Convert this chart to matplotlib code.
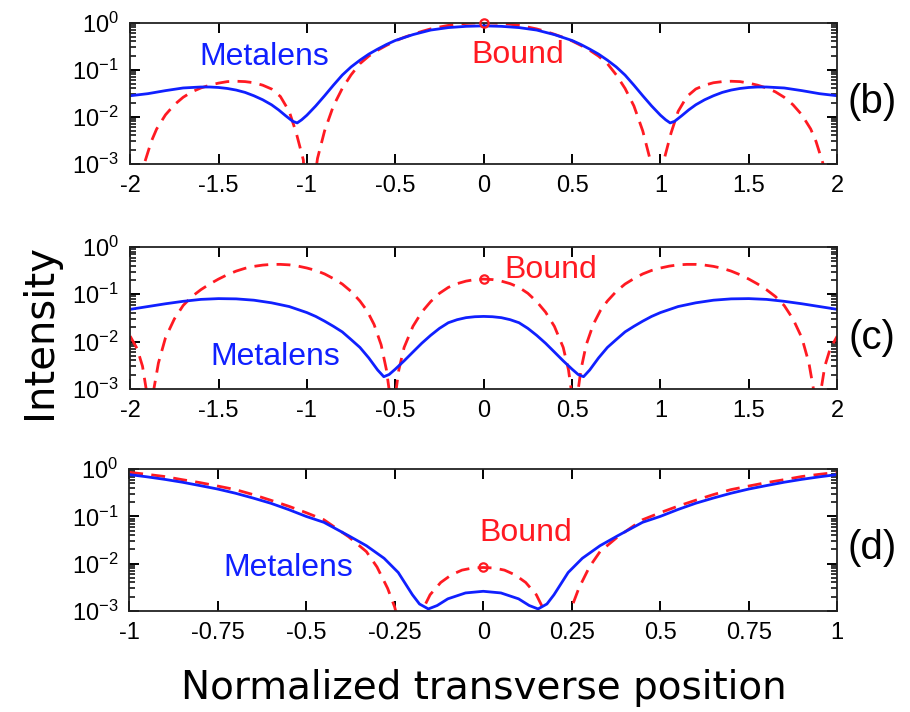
import matplotlib
matplotlib.use("Agg")
import matplotlib.pyplot as plt
from matplotlib.ticker import FixedLocator, NullFormatter

plt.rcParams['font.family'] = ['Liberation Sans', 'DejaVu Sans']
plt.rcParams['mathtext.fontset'] = 'custom'
plt.rcParams['mathtext.rm'] = 'Liberation Sans'

# ---- panel (b) ----
xb_metal = [-2.0, -1.9, -1.8, -1.7, -1.6, -1.55, -1.5, -1.45, -1.4, -1.35, -1.3, -1.25, -1.2, -1.16,
            -1.12, -1.08, -1.055, -1.03, -1.0, -0.95, -0.9, -0.85, -0.8, -0.75, -0.7, -0.65, -0.6,
            -0.55, -0.5, -0.4, -0.3, -0.2, -0.1, 0.0, 0.1, 0.2, 0.3, 0.4, 0.5, 0.55, 0.6, 0.65,
            0.7, 0.75, 0.8, 0.85, 0.9, 0.95, 1.0, 1.03, 1.055, 1.08, 1.12, 1.16, 1.2, 1.25, 1.3,
            1.35, 1.4, 1.45, 1.5, 1.55, 1.6, 1.7, 1.8, 1.9, 2.0]
yb_metal = [0.028, 0.031, 0.036, 0.041, 0.043, 0.043, 0.042, 0.040, 0.037, 0.033, 0.028, 0.023, 0.018, 0.014,
            0.0105, 0.008, 0.0074, 0.0086, 0.0108, 0.017, 0.028, 0.047, 0.077, 0.115, 0.16, 0.215, 0.275,
            0.345, 0.42, 0.56, 0.70, 0.79, 0.84, 0.86, 0.84, 0.79, 0.70, 0.56, 0.42, 0.345, 0.275, 0.215,
            0.16, 0.115, 0.077, 0.047, 0.028, 0.017, 0.0108, 0.0086, 0.0074, 0.008, 0.0105, 0.014, 0.018, 0.023, 0.028,
            0.033, 0.037, 0.040, 0.042, 0.043, 0.043, 0.041, 0.036, 0.031, 0.028]
xb_bound = [-2.0, -1.96, -1.94, -1.92, -1.88, -1.85, -1.8, -1.75, -1.7, -1.65, -1.6, -1.55, -1.5, -1.45,
            -1.4, -1.35, -1.3, -1.25, -1.2, -1.15, -1.1, -1.06, -1.02, -0.98, -0.97, -0.94, -0.9, -0.85,
            -0.8, -0.75, -0.7, -0.65, -0.6, -0.55, -0.5, -0.45, -0.4, -0.35, -0.3, -0.25, -0.2, -0.15,
            -0.1, -0.05, 0.0, 0.05, 0.1, 0.15, 0.2, 0.25, 0.3, 0.35, 0.4, 0.45, 0.5, 0.55, 0.6, 0.65,
            0.7, 0.75, 0.8, 0.85, 0.9, 0.94, 0.97, 0.98, 1.02, 1.06, 1.1, 1.15, 1.2, 1.25, 1.3, 1.35,
            1.4, 1.45, 1.5, 1.55, 1.6, 1.65, 1.7, 1.75, 1.8, 1.85, 1.88, 1.92, 1.94, 1.96, 2.0]
yb_bound = [0.0004, 1e-6, 0.0004, 0.001, 0.003, 0.0055, 0.011, 0.018, 0.026, 0.034, 0.041, 0.047, 0.052, 0.056,
            0.057, 0.056, 0.053, 0.047, 0.039, 0.027, 0.013, 0.0045, 0.0012, 1e-6, 0.0002, 0.0013, 0.005, 0.017,
            0.04, 0.078, 0.135, 0.195, 0.26, 0.33, 0.41, 0.49, 0.57, 0.655, 0.74, 0.81, 0.88, 0.93,
            0.97, 0.99, 1.0, 0.99, 0.97, 0.93, 0.88, 0.81, 0.74, 0.655, 0.57, 0.49, 0.41, 0.33, 0.26, 0.195,
            0.135, 0.078, 0.04, 0.017, 0.005, 0.0013, 0.0002, 1e-6, 0.0012, 0.0045, 0.013, 0.027, 0.039, 0.047, 0.053, 0.056,
            0.057, 0.056, 0.052, 0.047, 0.041, 0.034, 0.026, 0.018, 0.011, 0.0055, 0.003, 0.001, 0.0004, 1e-6, 0.0004]

# ---- panel (c) ----
xc_metal = [-2.0, -1.9, -1.8, -1.7, -1.6, -1.5, -1.4, -1.3, -1.2, -1.1, -1.0, -0.95, -0.9, -0.85,
            -0.8, -0.75, -0.7, -0.65, -0.6, -0.565, -0.535, -0.5, -0.45, -0.4, -0.35, -0.3, -0.25, -0.2,
            -0.15, -0.1, -0.05, 0.0, 0.05, 0.1, 0.15, 0.2, 0.25, 0.3, 0.35, 0.4, 0.45, 0.5, 0.535,
            0.565, 0.6, 0.65, 0.7, 0.75, 0.8, 0.85, 0.9, 0.95, 1.0, 1.1, 1.2, 1.3, 1.4, 1.5, 1.6,
            1.7, 1.8, 1.9, 2.0]
yc_metal = [0.048, 0.055, 0.063, 0.071, 0.078, 0.081, 0.08, 0.075, 0.066, 0.055, 0.041, 0.034, 0.027, 0.021,
            0.016, 0.011, 0.0075, 0.0045, 0.0025, 0.0018, 0.002, 0.0026, 0.0039, 0.006, 0.0092, 0.0135, 0.019, 0.025,
            0.029, 0.032, 0.0335, 0.034, 0.0335, 0.032, 0.029, 0.025, 0.019, 0.0135, 0.0092, 0.006, 0.0039, 0.0026, 0.002,
            0.0018, 0.0025, 0.0045, 0.0075, 0.011, 0.016, 0.021, 0.027, 0.034, 0.041, 0.055, 0.066, 0.075, 0.08, 0.081, 0.078,
            0.071, 0.063, 0.055, 0.048]
xc_bound = [-2.0, -1.96, -1.93, -1.9, -1.885, -1.87, -1.84, -1.8, -1.75, -1.7, -1.65, -1.6, -1.55, -1.5,
            -1.45, -1.4, -1.35, -1.3, -1.25, -1.2, -1.15, -1.1, -1.05, -1.0, -0.95, -0.9, -0.85, -0.8,
            -0.75, -0.7, -0.66, -0.62, -0.58, -0.55, -0.53, -0.515, -0.5, -0.48, -0.45, -0.4, -0.35, -0.3,
            -0.25, -0.2, -0.15, -0.1, -0.05, 0.0, 0.05, 0.1, 0.15, 0.2, 0.25, 0.3, 0.35, 0.4, 0.45,
            0.48, 0.5, 0.515, 0.53, 0.55, 0.58, 0.62, 0.66, 0.7, 0.75, 0.8, 0.85, 0.9, 0.95, 1.0,
            1.05, 1.1, 1.15, 1.2, 1.25, 1.3, 1.35, 1.4, 1.45, 1.5, 1.55, 1.6, 1.65, 1.7, 1.75, 1.8,
            1.84, 1.87, 1.885, 1.9, 1.93, 1.96, 2.0]
yc_bound = [0.013, 0.007, 0.003, 0.0006, 1e-6, 0.0008, 0.0035, 0.012, 0.03, 0.058, 0.09, 0.125, 0.165, 0.21,
            0.26, 0.31, 0.355, 0.39, 0.415, 0.43, 0.43, 0.42, 0.395, 0.36, 0.32, 0.27, 0.215, 0.165,
            0.115, 0.072, 0.045, 0.023, 0.0085, 0.0025, 0.0007, 1e-6, 0.0007, 0.0025, 0.0075, 0.021, 0.042, 0.07,
            0.105, 0.14, 0.168, 0.19, 0.205, 0.21, 0.205, 0.19, 0.168, 0.14, 0.105, 0.07, 0.042, 0.021, 0.0075,
            0.0025, 0.0007, 1e-6, 0.0007, 0.0025, 0.0085, 0.023, 0.045, 0.072, 0.115, 0.165, 0.215, 0.27, 0.32, 0.36,
            0.395, 0.42, 0.43, 0.43, 0.415, 0.39, 0.355, 0.31, 0.26, 0.21, 0.165, 0.125, 0.09, 0.058, 0.03, 0.012,
            0.0035, 0.0008, 1e-6, 0.0006, 0.003, 0.007, 0.013]

# ---- panel (d) ----
xd_metal = [-1.0, -0.95, -0.9, -0.85, -0.8, -0.75, -0.7, -0.65, -0.6, -0.55, -0.5, -0.45, -0.38, -0.33,
            -0.28, -0.24, -0.2, -0.18, -0.155, -0.13, -0.1, -0.05, 0.0, 0.05, 0.1, 0.13, 0.155, 0.18,
            0.2, 0.24, 0.28, 0.33, 0.38, 0.45, 0.5, 0.55, 0.6, 0.65, 0.7, 0.75, 0.8, 0.85, 0.9,
            0.95, 1.0]
yd_metal = [0.77, 0.69, 0.61, 0.53, 0.45, 0.38, 0.31, 0.245, 0.19, 0.14, 0.1, 0.075, 0.039, 0.024,
            0.013, 0.0065, 0.0022, 0.0014, 0.0011, 0.0013, 0.0018, 0.0024, 0.0026, 0.0024, 0.0018, 0.0013, 0.0011, 0.0014,
            0.0022, 0.0065, 0.013, 0.024, 0.039, 0.075, 0.1, 0.14, 0.19, 0.245, 0.31, 0.38, 0.45, 0.53, 0.61,
            0.69, 0.77]
xd_bound = [-1.0, -0.95, -0.9, -0.85, -0.8, -0.75, -0.7, -0.65, -0.6, -0.55, -0.5, -0.45, -0.38, -0.33,
            -0.3, -0.27, -0.25, -0.23, -0.21, -0.19, -0.17, -0.15, -0.12, -0.09, -0.06, -0.03, 0.0, 0.03,
            0.06, 0.09, 0.12, 0.15, 0.17, 0.19, 0.21, 0.23, 0.25, 0.27, 0.3, 0.33, 0.38, 0.45, 0.5,
            0.55, 0.6, 0.65, 0.7, 0.75, 0.8, 0.85, 0.9, 0.95, 1.0]
yd_bound = [0.86, 0.78, 0.7, 0.6, 0.52, 0.44, 0.37, 0.29, 0.22, 0.165, 0.12, 0.085, 0.037, 0.018,
            0.0085, 0.003, 0.0012, 0.0003, 1e-6, 0.0003, 0.0011, 0.0022, 0.004, 0.0058, 0.0073, 0.0081, 0.0083, 0.0081,
            0.0073, 0.0058, 0.004, 0.0022, 0.0011, 0.0003, 1e-6, 0.0003, 0.0012, 0.003, 0.0085, 0.018, 0.037, 0.085, 0.12,
            0.165, 0.22, 0.29, 0.37, 0.44, 0.52, 0.6, 0.7, 0.78, 0.86]

wide_ticks = [-2, -1.5, -1, -0.5, 0, 0.5, 1, 1.5, 2]
wide_labels = ['-2', '-1.5', '-1', '-0.5', '0', '0.5', '1', '1.5', '2']
narrow_ticks = [-1, -0.75, -0.5, -0.25, 0, 0.25, 0.5, 0.75, 1]
narrow_labels = ['-1', '-0.75', '-0.5', '-0.25', '0', '0.25', '0.5', '0.75', '1']
decades = [1e-3, 1e-2, 1e-1, 1]
decade_labels = [r'$\mathregular{10^{-3}}$', r'$\mathregular{10^{-2}}$',
                 r'$\mathregular{10^{-1}}$', r'$\mathregular{10^{0}}$']
minor_pos = [d * k for d in decades[:-1] for k in range(2, 10)]

blue = '#1020ff'
red = '#ff1a22'

fig = plt.figure(figsize=(9.1, 7.12), dpi=100)


def panel(rect, xm, ym, xbd, ybd, ticks, labels, metal_pos, bound_pos, tag, tag_y):
    ax = fig.add_axes(rect)
    ax.plot(xbd, ybd, color=red, lw=2, dashes=(5, 3))
    ax.plot([0], [ybd[xbd.index(0.0)]], 'o', mfc='none', mec=red, mew=1.6, ms=6,
            clip_on=False, zorder=5)
    ax.plot(xm, ym, color=blue, lw=2)
    ax.set_yscale('log')
    ax.set_ylim(1e-3, 1)
    ax.set_xlim(ticks[0], ticks[-1])
    ax.set_xticks(ticks)
    ax.set_xticklabels(labels)
    ax.xaxis.set_minor_locator(FixedLocator([]))
    ax.yaxis.set_major_locator(FixedLocator(decades))
    ax.yaxis.set_minor_locator(FixedLocator(minor_pos))
    ax.yaxis.set_minor_formatter(NullFormatter())
    ax.set_yticklabels(decade_labels)
    # MATLAB-like box: ticks inside on all four sides
    ax.tick_params(which='both', direction='in', bottom=True, top=True, left=True, right=True,
                   labelsize=17, color='black')
    ax.tick_params(which='major', length=7, width=1.4, pad=8)
    ax.tick_params(which='minor', length=4, width=1.1)
    for s in ax.spines.values():
        s.set_linewidth(1.3)
        s.set_color('#222222')
    ax.text(metal_pos[0], metal_pos[1], 'Metalens', color=blue, fontsize=23,
            ha='center', va='center')
    ax.text(bound_pos[0], bound_pos[1], 'Bound', color=red, fontsize=23,
            ha='center', va='center')
    fig.text(0.958, tag_y, tag, fontsize=29, ha='center', va='center')
    return ax


panel([0.143, 0.770, 0.777, 0.198], xb_metal, yb_metal, xb_bound, yb_bound,
      wide_ticks, wide_labels, (-1.24, 0.19), (0.19, 0.21), '(b)', 0.857)
panel([0.143, 0.454, 0.777, 0.199], xc_metal, yc_metal, xc_bound, yc_bound,
      wide_ticks, wide_labels, (-1.18, 0.0048), (0.38, 0.33), '(c)', 0.525)
panel([0.142, 0.142, 0.778, 0.199], xd_metal, yd_metal, xd_bound, yd_bound,
      narrow_ticks, narrow_labels, (-0.55, 0.0081), (0.12, 0.044), '(d)', 0.23)

fig.text(0.044, 0.535, 'Intensity', family='DejaVu Sans', fontsize=29,
         rotation=90, ha='center', va='center')
fig.text(0.532, 0.034, 'Normalized transverse position', family='DejaVu Sans',
         fontsize=28, ha='center', va='center')

fig.savefig('out.png', dpi=100)
